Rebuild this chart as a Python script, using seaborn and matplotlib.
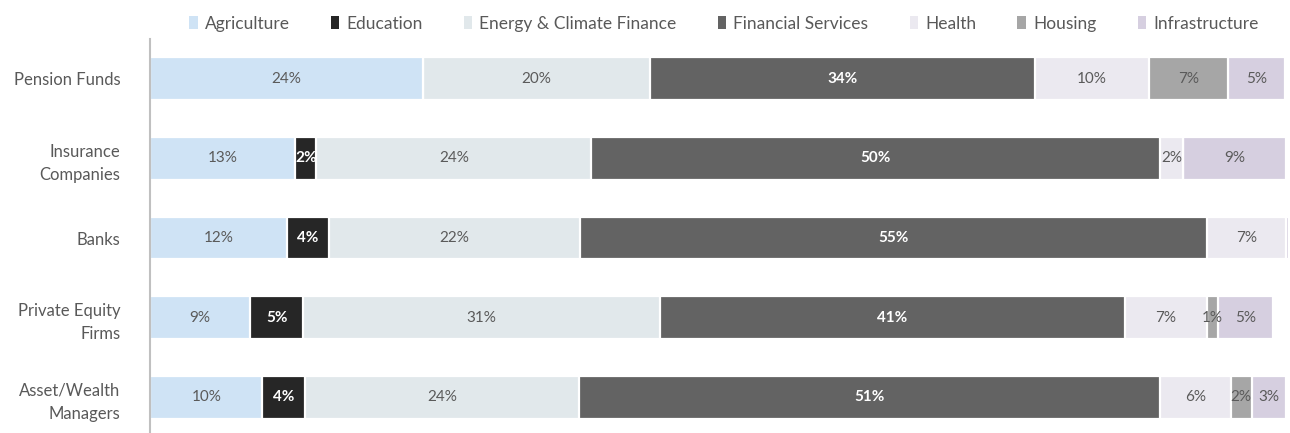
import numpy as np
import pandas as pd
import matplotlib
matplotlib.use('Agg')
import matplotlib.pyplot as plt
import seaborn as sns
from matplotlib.patches import Patch

sns.set_theme(style='white')
plt.rcParams['font.family'] = ['Lato', 'DejaVu Sans']

# 数据
investors = ['Pension Funds', 'Insurance\nCompanies', 'Banks', 'Private Equity\nFirms', 'Asset/Wealth\nManagers']
sectors = ['Agriculture', 'Education', 'Energy & Climate Finance', 'Financial Services',
           'Health', 'Housing', 'Infrastructure']
agriculture = [24.0, 12.8, 12.05, 8.8, 9.9]
education = [0.0, 1.85, 3.7, 4.7, 3.7]
energy = [20.0, 24.2, 22.1, 31.4, 24.2]
financial = [33.9, 50.0, 55.2, 40.9, 51.1]
health = [10.0, 2.1, 6.95, 7.2, 6.2]
housing = [7.0, 0.0, 0.0, 1.0, 1.85]
infrastructure = [5.0, 9.0, 0.25, 4.8, 3.0]
labels = {
    'Agriculture': ['24%', '13%', '12%', '9%', '10%'],
    'Education': ['', '2%', '4%', '5%', '4%'],
    'Energy & Climate Finance': ['20%', '24%', '22%', '31%', '24%'],
    'Financial Services': ['34%', '50%', '55%', '41%', '51%'],
    'Health': ['10%', '2%', '7%', '7%', '6%'],
    'Housing': ['7%', '', '', '1%', '2%'],
    'Infrastructure': ['5%', '9%', '', '5%', '3%'],
}
colors = ['#cfe3f5', '#262626', '#e1e8eb', '#636363', '#ebe9f0', '#a6a6a6', '#d6cfe0']
label_colors = ['#5a5a5a', 'white', '#5a5a5a', 'white', '#5a5a5a', '#5a5a5a', '#5a5a5a']

df = pd.DataFrame([agriculture, education, energy, financial, health, housing, infrastructure],
                  index=sectors, columns=investors).T
cum = df.cumsum(axis=1)

fig = plt.figure(figsize=(12.9, 4.33), dpi=100)
ax = fig.add_axes([150 / 1290, -4 / 433, 1138.5 / 1290, 398 / 433])

# 从最长的累计值开始画，后面的覆盖前面的
for i in range(len(sectors) - 1, -1, -1):
    s = sectors[i]
    sns.barplot(x=cum[s].values, y=investors, orient='h', color=colors[i],
                width=0.54, edgecolor='white', linewidth=1.6, ax=ax, saturation=1)

for i, s in enumerate(sectors):
    centers = cum[s] - df[s] / 2
    for j, inv in enumerate(investors):
        txt = labels[s][j]
        if not txt:
            continue
        bold = label_colors[i] == 'white'
        ax.text(centers.iloc[j], j, txt, ha='center', va='center', fontsize=11,
                color=label_colors[i], fontweight='bold' if bold else 'normal')

ax.set_xlim(0, 100.2)
ax.set_ylim(4.5, -0.5)
ax.set_xticks([])
ax.set_xlabel('')
ax.set_ylabel('')
ax.tick_params(axis='y', length=0, pad=21.5, labelsize=12, labelcolor='#595959')
for t in ax.get_yticklabels():
    t.set_linespacing(1.55)
for sp in ['top', 'right', 'bottom']:
    ax.spines[sp].set_visible(False)
ax.spines['left'].set_color('#c0c0c0')
ax.spines['left'].set_linewidth(1.5)
ax.spines['left'].set_zorder(5)

handles = [Patch(facecolor=c, edgecolor='none') for c in colors]
fig.legend(handles, sectors, loc='upper center', bbox_to_anchor=(0.561, 1.0), ncol=7,
           frameon=False, fontsize=12.5, handlelength=0.5, handleheight=0.7,
           handletextpad=0.4, columnspacing=2.37, labelcolor='#595959')

plt.savefig('out.png', dpi=100)
